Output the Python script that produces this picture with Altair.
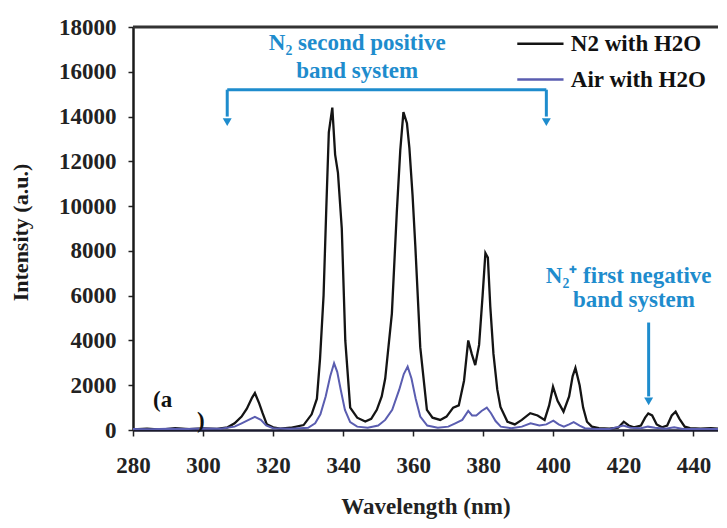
import altair as alt
import pandas as pd

# ---- data ----
wl_n2 = [280, 284, 288, 292, 296, 300, 304, 307, 309, 311, 312.5, 314, 314.8, 316, 317, 318.2, 320, 322, 325,
         328.7, 331, 332.5, 333.4, 334.4, 335.2, 335.9, 336.9, 337.7, 338.5, 339.6, 340.6, 342, 344, 346.3, 348,
         349.6, 351, 352, 353.9, 355.3, 356.3, 357.2, 358.2, 358.9, 359.8, 360.6, 362, 363.9, 365.5, 367.7, 369.5,
         371.4, 373, 374.5, 375.7, 376.7, 377.7, 378.8, 379.8, 380.6, 381.3, 382, 382.9, 384, 384.9, 386.9, 389,
         391, 393.4, 395.5, 397.5, 398.8, 399.9, 401.2, 402.9, 404.5, 405.5, 406.3, 407.5, 408.5, 409.6, 411, 413,
         416, 418.5, 420.1, 421.5, 423, 425, 426.2, 427.1, 428.2, 429.5, 431, 432.5, 433.8, 434.9, 436, 437.5, 439,
         442, 445, 448]
n2 = [30, 60, 20, 80, 40, 70, 50, 120, 300, 600, 950, 1450, 1650, 1200, 750, 250, 120, 60, 100,
      220, 700, 1400, 3200, 6000, 10000, 13300, 14400, 12300, 11500, 9000, 4000, 1000, 550, 380, 500,
      900, 1500, 2300, 5200, 9700, 12500, 14200, 13700, 12600, 10500, 8200, 3700, 900, 550, 450, 600,
      1000, 1100, 2200, 4000, 3400, 2900, 3800, 6000, 7900, 7700, 5500, 3400, 1800, 1030, 370, 250,
      450, 750, 650, 450, 1100, 1930, 1300, 820, 1500, 2400, 2770, 2000, 1000, 370, 150, 80,
      60, 100, 370, 200, 120, 200, 550, 740, 650, 250, 120, 200, 650, 820, 500, 150, 80,
      60, 80, 50]

wl_air = [280, 285, 290, 295, 300, 305, 309, 311, 313, 314.8, 316.5, 318, 320, 325, 330, 332, 333.5, 335, 336.3,
          337.4, 338.3, 339.3, 340.5, 342, 344, 347, 350, 352, 354, 356, 357.3, 358.4, 359.5, 360.7, 362, 364,
          367, 370, 372, 374, 375.7, 376.8, 378, 379.5, 381, 382.2, 383.5, 385, 388, 391, 393.5, 396, 398, 400,
          401.5, 403, 404.5, 405.8, 407.5, 409, 412, 416, 420, 422, 425, 427, 429, 432, 434.5, 437, 442, 448]
air = [50, 30, 60, 40, 70, 60, 150, 300, 450, 590, 450, 200, 80, 60, 100, 300, 700, 1500, 2400,
       2980, 2600, 1800, 900, 350, 150, 100, 200, 450, 900, 1800, 2500, 2830, 2300, 1400, 600, 200,
       100, 150, 300, 450, 850, 650, 650, 850, 1000, 750, 400, 150, 80, 150, 300, 200, 250, 420,
       250, 150, 250, 350, 200, 80, 50, 40, 200, 100, 80, 150, 100, 60, 120, 50, 40, 50]

series_names = ["N2 with H2O", "Air with H2O"]
series_colors = ["#141414", "#5a5db0"]

x_ticks = [280, 300, 320, 340, 360, 380, 400, 420, 440]
y_ticks = [0, 2000, 4000, 6000, 8000, 10000, 12000, 14000, 16000, 18000]

# legend placement (data units)
leg_x = [389.7, 402.9]
leg_text_x = 405.0
leg_y = [17250, 15650]

# annotations (data units)
bracket_x = [306.9, 398.0]
bracket_y = 15200
bracket_tip = 14000
arrow_head_y = 13750
arrow2_x = 427.2
arrow2_y = [4800, 1500]
arrow2_head_y = 1280

ann_text = ["N₂ second positive", "band system", "N₂⁺ first negative", "band system"]
ann_x = [344.0, 344.0, 421.5, 423.0]
ann_y = [17300, 16050, 6900, 5800]

lbl_text = ["(a", ")"]
lbl_x = [285.7, 298.3]
lbl_y = [1350, 400]

FONT = "Liberation Serif"
BLUE = "#1e8ccd"
FS = 23

df_n2 = pd.DataFrame({"wl": wl_n2, "val": n2, "series": series_names[0]})
df_air = pd.DataFrame({"wl": wl_air, "val": air, "series": series_names[1]})

xscale = alt.Scale(domain=[280, 447], nice=False, zero=False)
yscale = alt.Scale(domain=[0, 18000], nice=False)
color = alt.Color("series:N", scale=alt.Scale(domain=series_names, range=series_colors), legend=None)

x_enc = alt.X("wl:Q", scale=xscale,
              axis=alt.Axis(title="Wavelength (nm)", values=x_ticks, grid=False,
                            labelFont=FONT, labelFontWeight="bold", labelFontSize=FS, labelColor="#222",
                            labelPadding=18, tickSize=6, tickColor="#222", tickWidth=1.5,
                            domainColor="#1a1a2e", domainWidth=2.5,
                            titleFont=FONT, titleFontWeight="bold", titleFontSize=FS, titleColor="#222",
                            titleY=65, labelFlush=False))
y_enc = alt.Y("val:Q", scale=yscale,
              axis=alt.Axis(title="Intensity (a.u.)", values=y_ticks, grid=False, format="d",
                            labelFont=FONT, labelFontWeight="bold", labelFontSize=FS, labelColor="#222",
                            labelPadding=12, tickSize=5, tickColor="#222", tickWidth=1.5,
                            domainColor="#1a1a1a", domainWidth=2.5,
                            titleFont=FONT, titleFontWeight="bold", titleFontSize=FS - 1, titleColor="#1a1a1a",
                            titleX=-101, titleY=205))

line_n2 = alt.Chart(df_n2).mark_line(strokeWidth=2.3, clip=True).encode(x=x_enc, y=y_enc, color=color)
line_air = alt.Chart(df_air).mark_line(strokeWidth=2, clip=True).encode(x="wl:Q", y="val:Q", color=color)

top_border = alt.Chart(pd.DataFrame({"v": [18000]})).mark_rule(color="#333", strokeWidth=3).encode(
    y="v:Q", x=alt.value(0), x2=alt.value(585))

# legend built from marks
leg_df = pd.DataFrame({"series": series_names, "x": [leg_x[0]] * 2, "x2": [leg_x[1]] * 2,
                       "y": leg_y, "tx": [leg_text_x] * 2})
leg_lines = alt.Chart(leg_df).mark_rule(strokeWidth=2.5).encode(x="x:Q", x2="x2:Q", y="y:Q", color=color)
leg_labels = alt.Chart(leg_df).mark_text(font=FONT, fontWeight="bold", fontSize=FS, color="#111",
                                         align="left", baseline="middle").encode(x="tx:Q", y="y:Q", text="series:N")

br_df = pd.DataFrame({"x": [bracket_x[0]], "x2": [bracket_x[1]], "y": [bracket_y]})
bracket_h = alt.Chart(br_df).mark_rule(color=BLUE, strokeWidth=3).encode(x="x:Q", x2="x2:Q", y="y:Q")
bv_df = pd.DataFrame({"x": bracket_x, "y": [bracket_y] * 2, "y2": [bracket_tip] * 2})
bracket_v = alt.Chart(bv_df).mark_rule(color=BLUE, strokeWidth=3).encode(x="x:Q", y="y:Q", y2="y2:Q")
heads_df = pd.DataFrame({"x": bracket_x + [arrow2_x], "y": [arrow_head_y, arrow_head_y, arrow2_head_y]})
heads = alt.Chart(heads_df).mark_point(shape="triangle-down", filled=True, color=BLUE, size=80, opacity=1).encode(
    x="x:Q", y="y:Q")
a2_df = pd.DataFrame({"x": [arrow2_x], "y": [arrow2_y[0]], "y2": [arrow2_y[1]]})
arrow2 = alt.Chart(a2_df).mark_rule(color=BLUE, strokeWidth=3).encode(x="x:Q", y="y:Q", y2="y2:Q")

ann_df = pd.DataFrame({"t": ann_text, "x": ann_x, "y": ann_y})
ann = alt.Chart(ann_df).mark_text(font=FONT, fontWeight="bold", fontSize=FS, color=BLUE,
                                  align="center", baseline="middle").encode(x="x:Q", y="y:Q", text="t:N")

lbl_df = pd.DataFrame({"t": lbl_text, "x": lbl_x, "y": lbl_y})
lbl = alt.Chart(lbl_df).mark_text(font=FONT, fontWeight="bold", fontSize=FS, color="#111",
                                  align="left", baseline="middle").encode(x="x:Q", y="y:Q", text="t:N")

chart = alt.layer(line_n2, line_air, top_border, leg_lines, leg_labels, bracket_h, bracket_v, arrow2, heads,
                  ann, lbl).properties(
    width=585, height=403,
    autosize=alt.AutoSizeParams(type="none"),
    padding={"left": 125, "top": 19, "right": 0, "bottom": 90},
).configure_view(stroke=None).configure(background="white")

chart.save("out.html", embed_options={"renderer": "svg", "actions": False})
